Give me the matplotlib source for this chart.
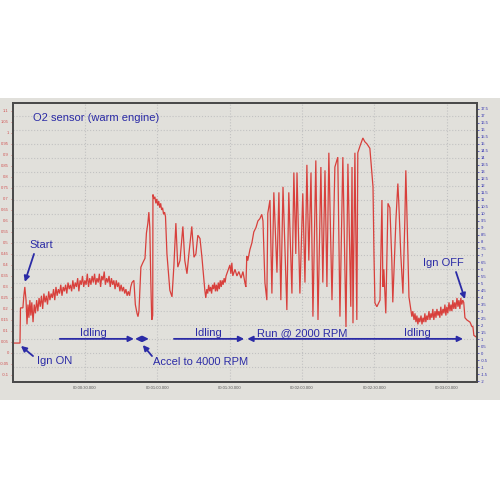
import matplotlib
matplotlib.use("Agg")
import matplotlib.pyplot as plt
from matplotlib.patches import Rectangle
from matplotlib.ticker import FixedLocator, FuncFormatter

plt.rcParams['font.family'] = ['Liberation Sans', 'DejaVu Sans']

# ---- data: O2 sensor voltage (V) vs time (s) ----
time_start = [0.2, 3.1, 3.3, 4.3, 4.7, 5.1, 5.6, 6.0, 6.4, 6.8, 7.2, 7.6, 8.0, 8.5]
volt_start = [0.045, 0.045, 0.205, 0.205, 0.26, 0.30, 0.24, 0.13, 0.22, 0.16, 0.24, 0.17, 0.23, 0.14]

time_idle1 = [9, 9.5, 10, 10.5, 11, 11.5, 12, 12.5, 13, 13.5, 14, 14.5, 15, 15.5, 16, 16.5,
              17, 17.5, 18, 18.5, 19, 19.5, 20, 20.5, 21, 21.5, 22, 22.5, 23, 23.5, 24, 24.5,
              25, 25.5, 26, 26.5, 27, 27.5, 28, 28.5, 29, 29.5, 30, 30.5, 31, 31.5, 32, 32.5,
              33, 33.5, 34, 34.5, 35, 35.5, 36, 36.5, 37, 37.5, 38, 38.5, 39, 39.5, 40, 40.5,
              41, 41.5, 42, 42.5, 43, 43.5, 44, 44.5, 45, 45.5, 46, 46.5, 47, 47.5, 48, 48.5,
              49, 49.5]
volt_idle1 = [0.22, 0.18, 0.24, 0.19, 0.25, 0.21, 0.26, 0.20, 0.27, 0.23, 0.26, 0.22, 0.28, 0.24, 0.27, 0.25,
              0.29, 0.24, 0.30, 0.26, 0.29, 0.27, 0.31, 0.26, 0.30, 0.28, 0.31, 0.27, 0.32, 0.29, 0.31, 0.28,
              0.33, 0.29, 0.32, 0.30, 0.34, 0.28, 0.33, 0.31, 0.35, 0.30, 0.33, 0.31, 0.36, 0.30, 0.34, 0.31,
              0.35, 0.32, 0.36, 0.31, 0.34, 0.32, 0.36, 0.30, 0.35, 0.33, 0.37, 0.31, 0.34, 0.32, 0.35, 0.30,
              0.34, 0.31, 0.33, 0.29, 0.33, 0.30, 0.32, 0.28, 0.31, 0.28, 0.30, 0.27, 0.29, 0.26, 0.28, 0.26,
              0.30, 0.32]

time_accel = [50.3, 50.9, 51.6, 52.0, 52.4, 53.2, 54.0, 54.9, 55.5, 56.1, 56.5, 56.9, 57.3, 57.7, 58.1,
              58.2, 58.6, 59.0, 59.4, 59.8, 60.2, 60.6, 61.0, 61.4, 61.8, 62.2, 62.6, 63.0, 63.4,
              64.0, 65.2, 66.1, 66.9, 67.7, 68.5, 69.4, 70.6, 71.4, 72.3, 73.1, 74.3, 75.2, 76.0,
              76.8, 77.7, 78.5, 79.7]
volt_accel = [0.33, 0.22, 0.18, 0.165, 0.19, 0.39, 0.41, 0.43, 0.545, 0.59, 0.64, 0.57, 0.33, 0.15, 0.17,
              0.72, 0.70, 0.71, 0.68, 0.70, 0.67, 0.69, 0.66, 0.68, 0.65, 0.66, 0.63, 0.64, 0.62,
              0.45, 0.285, 0.255, 0.40, 0.59, 0.39, 0.42, 0.575, 0.42, 0.36, 0.45, 0.575, 0.435, 0.45,
              0.535, 0.52, 0.435, 0.285]

time_idle2 = [80.1, 80.5, 80.9, 81.3, 81.7, 82.1, 82.5, 82.9, 83.3, 83.7, 84.1, 84.5, 84.9, 85.3,
              85.7, 86.1, 86.5, 86.9, 87.3, 87.7, 88.1, 88.5, 90.1, 90.5, 90.9, 91.3, 92.2, 93.0,
              93.8, 94.7, 95.5, 96.3, 96.7, 97.1, 97.5, 98.4, 99.2, 100.0, 100.9, 101.7, 102.5,
              103.3, 103.8]
volt_idle2 = [0.25, 0.29, 0.27, 0.31, 0.28, 0.30, 0.27, 0.31, 0.29, 0.32, 0.28, 0.31, 0.28, 0.32,
              0.29, 0.33, 0.30, 0.33, 0.31, 0.34, 0.32, 0.35, 0.40, 0.36, 0.41, 0.35, 0.38, 0.35,
              0.37, 0.34, 0.37, 0.32, 0.30, 0.44, 0.42, 0.47, 0.50, 0.55, 0.57, 0.60, 0.61,
              0.63, 0.60]

time_run = [104.6, 105.4, 105.8, 106.7, 107.5, 108.3, 109.6, 110.4, 111.2, 112.1, 113.7, 114.5,
            115.8, 116.6, 117.4, 117.9, 119.1, 120.3, 121.2, 122.0, 122.8, 123.7, 124.5, 125.7,
            126.6, 127.8, 128.6, 129.5, 130.3, 131.1, 132.4, 133.6, 134.8, 135.7, 136.9, 138.2,
            139.0, 140.2, 140.7, 141.1, 141.9, 142.7, 143.1, 144.0, 145.2, 146.0, 146.9, 148.1,
            149.4, 149.8, 150.2, 151.0, 152.3, 153.1, 153.5, 153.9, 154.7, 155.6, 156.4, 157.2,
            157.6, 158.9, 159.7, 160.1, 160.9, 161.8, 162.6, 163.0, 163.4, 164.3, 165.5]
volt_run = [0.32, 0.24, 0.635, 0.695, 0.27, 0.73, 0.365, 0.73, 0.24, 0.755, 0.195, 0.73,
            0.27, 0.82, 0.45, 0.82, 0.27, 0.725, 0.32, 0.855, 0.42, 0.82, 0.165, 0.875,
            0.15, 0.845, 0.32, 0.83, 0.30, 0.91, 0.24, 0.845, 0.89, 0.165, 0.89, 0.118,
            0.86, 0.21, 0.845, 0.135, 0.91, 0.15, 0.91, 0.94, 0.977, 0.96, 0.95, 0.93,
            0.755, 0.45, 0.227, 0.21, 0.24, 0.695, 0.30, 0.38, 0.18, 0.68, 0.66, 0.42,
            0.23, 0.605, 0.77, 0.68, 0.45, 0.27, 0.605, 0.83, 0.66, 0.255, 0.165]

time_idle3 = [165.9, 166.4, 166.8, 167.2, 167.6, 168.0, 168.4, 168.8, 169.3, 169.7, 170.1, 170.5,
              170.9, 171.3, 171.7, 172.1, 172.6, 173.0, 173.4, 173.8, 174.2, 174.6, 175.1, 175.5,
              175.9, 176.3, 176.7, 177.1, 177.5, 177.9, 178.4, 178.8, 179.2, 179.6, 180.0, 180.4,
              180.9, 181.3, 181.7, 182.1, 182.5, 182.9, 183.3, 183.7, 184.2, 184.6, 185.0, 185.4,
              185.8, 186.2, 186.6, 187.0, 187.5, 188.3, 189.6, 190.4, 190.8, 191.2, 192.5]
volt_idle3 = [0.19, 0.15, 0.18, 0.14, 0.17, 0.13, 0.16, 0.14, 0.17, 0.13, 0.16, 0.14,
              0.18, 0.14, 0.17, 0.15, 0.19, 0.15, 0.18, 0.16, 0.20, 0.15, 0.19, 0.16,
              0.20, 0.17, 0.19, 0.16, 0.21, 0.17, 0.20, 0.18, 0.22, 0.17, 0.21, 0.18,
              0.23, 0.19, 0.22, 0.19, 0.24, 0.20, 0.23, 0.20, 0.25, 0.21, 0.24, 0.20,
              0.25, 0.22, 0.24, 0.23, 0.16, 0.15, 0.14, 0.12, 0.12, 0.08, 0.07]

time_s = time_start + time_idle1 + time_accel + time_idle2 + time_run + time_idle3
volts = volt_start + volt_idle1 + volt_accel + volt_idle2 + volt_run + volt_idle3

x_ticks = [30, 60, 90, 120, 150, 180]
x_tick_labels = ["00:00:30.000", "00:01:00.000", "00:01:30.000",
                 "00:02:00.000", "00:02:30.000", "00:03:00.000"]
left_ticks = [1.1 - 0.05 * i for i in range(25)]
right_ticks = [17.5 - 0.5 * i for i in range(40)]
right_grid = list(range(-2, 18))

BG = '#e1e0db'
BLUE = '#2b2ba6'
RED = '#d8403c'
GRID = '#c2c2c2'

fig = plt.figure(figsize=(5, 5), dpi=100)
fig.patch.set_facecolor('white')
fig.patches.append(Rectangle((0, 0.2), 1, 0.604, transform=fig.transFigure,
                             facecolor=BG, edgecolor='none', zorder=-5))

ax = fig.add_axes([0.026, 0.236, 0.928, 0.558])
ax2 = ax.twinx()
ax.set_zorder(ax2.get_zorder() + 1)
ax.patch.set_visible(False)
ax2.patch.set_visible(True)
ax2.patch.set_facecolor(BG)

ax.plot(time_s, volts, color=RED, lw=0.9, solid_joinstyle='miter')

ax.set_xlim(0.2, 192.5)
ax.set_ylim(-0.132, 1.136)
ax2.set_ylim(-2.07, 17.93)

fmt = FuncFormatter(lambda v, p: f"{round(v, 2):g}")
ax.yaxis.set_major_locator(FixedLocator(left_ticks))
ax.yaxis.set_major_formatter(fmt)
ax2.yaxis.set_major_locator(FixedLocator(right_ticks))
ax2.yaxis.set_major_formatter(fmt)

ax.set_xticks(x_ticks)
ax.set_xticklabels(x_tick_labels)

ax.tick_params(axis='y', labelsize=3, colors='#d05050', length=1.5, width=0.5, pad=1.5)
ax2.tick_params(axis='y', labelsize=3, colors='#3030b0', length=1.5, width=0.5, pad=1.5)
ax.tick_params(axis='x', labelsize=3, colors='#555555', length=0, pad=3)

ax.xaxis.grid(True, color=GRID, linestyle=':', linewidth=0.8)
for g in right_grid:
    ax2.axhline(g, color=GRID, linestyle=':', linewidth=0.8, zorder=0.5)

for a in (ax, ax2):
    for s in a.spines.values():
        s.set_color('#4a4a4a')
        s.set_linewidth(1.4)

# ---- annotations ----
tk = dict(color=BLUE, fontsize=8)
ax.text(8.5, 1.068, "O2 sensor (warm engine)", ha='left', va='center', **tk)
ax.text(7.2, 0.491, "Start", ha='left', va='center', **tk)
ax.text(10.1, -0.036, "Ign ON", ha='left', va='center', **tk)
ax.text(33.7, 0.091, "Idling", ha='center', va='center', **tk)
ax.text(58.2, -0.041, "Accel to 4000 RPM", ha='left', va='center', **tk)
ax.text(81.0, 0.091, "Idling", ha='center', va='center', **tk)
ax.text(101.3, 0.091, "Run @ 2000 RPM", ha='left', va='center', **tk)
ax.text(167.6, 0.091, "Idling", ha='center', va='center', **tk)
ax.text(170.1, 0.409, "Ign OFF", ha='left', va='center', **tk)

ap = dict(color=BLUE, lw=1.3, mutation_scale=8, shrinkA=0, shrinkB=0)
def arrow(xy, xytext, style='-|>'):
    ax.annotate('', xy=xy, xytext=xytext, arrowprops=dict(arrowstyle=style, **ap))

arrow((5.1, 0.323), (8.9, 0.45))
arrow((3.5, 0.032), (8.5, -0.014))
arrow((50.3, 0.064), (19.6, 0.064))
arrow((56.5, 0.064), (50.8, 0.064), '<|-|>')
arrow((54.0, 0.036), (57.8, -0.014))
arrow((96.0, 0.064), (66.9, 0.064))
arrow((186.7, 0.064), (97.3, 0.064), '<|-|>')
arrow((187.5, 0.245), (183.8, 0.368))

fig.savefig("out.png", dpi=100)
